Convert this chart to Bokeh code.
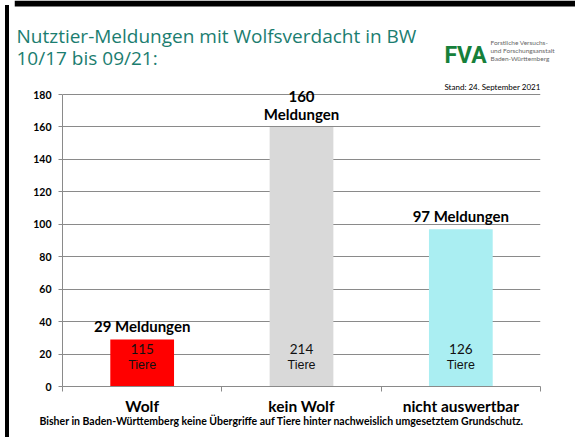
from bokeh.plotting import figure
from bokeh.layouts import column, row
from bokeh.models import (ColumnDataSource, Range1d, LinearAxis, FixedTicker, Label, LabelSet,
                          Title, Div)
from bokeh.core.properties import value
from bokeh.embed import file_html
from bokeh.resources import INLINE

# ---- data ----
categories = ["Wolf", "kein Wolf", "nicht auswertbar"]
meldungen = [29, 160, 97]
tiere = [115, 214, 126]
bar_colors = ["#FF0000", "#D9D9D9", "#AAEEF2"]
label_seps = [" ", "\n", " "]
y_ticks = [0, 20, 40, 60, 80, 100, 120, 140, 160, 180]
title_lines = ["Nutztier-Meldungen mit Wolfsverdacht in BW", "10/17 bis 09/21:"]
stand_text = "Stand: 24. September 2021"
footnote = "Bisher in Baden-Württemberg keine Übergriffe auf Tiere hinter nachweislich umgesetztem Grundschutz."
logo_text = "FVA"
logo_lines = ["Forstliche Versuchs-", "und Forschungsanstalt", "Baden-Württemberg"]

# ---- layout constants (pixels) ----
W = 561
HEADER_H = 80
MAIN_H = 352
BL, BR, BB = 48, 35, 46
FRAME_H = MAIN_H - BB
PX_PER_UNIT = 292 / 180.0
Y_TOP = FRAME_H / PX_PER_UNIT
GRAY = "#8a8a8a"
TEAL = "#1B7D70"
GREEN = "#16803A"

# ---------- header ----------
hdr = figure(width=W, height=HEADER_H, x_range=Range1d(0, W), y_range=Range1d(HEADER_H, 0),
             output_backend="svg", toolbar_location=None, x_axis_location=None,
             y_axis_location=None, min_border=0)
hdr.frame_align = False
hdr.outline_line_color = None
hdr.grid.visible = False
hdr.quad(left=[0], right=[W], top=[0], bottom=[6], fill_color="black", line_color=None)
hdr.text(x=[2, 2], y=[35, 57], text=title_lines, text_font=value("Open Sans"),
         text_font_size="19px", text_color=TEAL, text_baseline="alphabetic")
hdr.text(x=[430], y=[55], text=[logo_text], text_font=value("Roboto"),
         text_font_style="bold", text_font_size="23px", text_color=GREEN,
         text_baseline="alphabetic")
hdr.text(x=[476, 476, 476], y=[42, 50, 58], text=logo_lines, text_font=value("Lato"),
         text_font_size="6.5px", text_color="#666666", text_baseline="middle")

# ---------- main chart ----------
n = len(categories)
centers = [i + 0.5 for i in range(n)]
src = ColumnDataSource(dict(xc=centers, m=meldungen, color=bar_colors))

ml_x, ml_y, ml_t, ml_off = [], [], [], []
for c, m, s in zip(centers, meldungen, label_seps):
    lines = f"{m}{s}Meldungen".split("\n")
    for k, line in enumerate(reversed(lines)):
        ml_x.append(c); ml_y.append(m); ml_t.append(line); ml_off.append(4 + 21 * k)
msrc = ColumnDataSource(dict(x=ml_x, y=ml_y, t=ml_t, off=ml_off))

p = figure(width=W, height=MAIN_H, x_range=Range1d(0, n), y_range=Range1d(0, Y_TOP),
           output_backend="svg", toolbar_location=None, x_axis_location=None,
           min_border_left=BL, min_border_right=BR, min_border_top=0, min_border_bottom=BB)
p.frame_align = False
p.outline_line_color = None
p.xgrid.visible = False

p.vbar(x="xc", top="m", width=0.4, fill_color="color", line_color=None, source=src)

yt = FixedTicker(ticks=y_ticks)
p.yaxis.ticker = yt
p.yaxis.bounds = (0, 180)
p.ygrid.ticker = yt
p.ygrid.bounds = (0, 180)
p.ygrid.grid_line_color = GRAY
p.yaxis.axis_line_color = GRAY
p.yaxis.major_tick_line_color = GRAY
p.yaxis.major_tick_in = 0
p.yaxis.major_tick_out = 4
p.yaxis.minor_tick_line_color = None
p.yaxis.major_label_standoff = 7
p.yaxis.major_label_text_font = "Lato"
p.yaxis.major_label_text_font_style = "bold"
p.yaxis.major_label_text_font_size = "10.5px"
p.yaxis.major_label_text_color = "black"

edges = list(range(n + 1))
edge_axis = LinearAxis(ticker=FixedTicker(ticks=edges),
                       major_label_overrides={e: "" for e in edges},
                       major_label_text_font_size="1px", major_label_standoff=0,
                       major_tick_in=0, major_tick_out=5, minor_tick_line_color=None,
                       axis_line_color=GRAY, major_tick_line_color=GRAY)
p.add_layout(edge_axis, "below")
cat_axis = LinearAxis(ticker=FixedTicker(ticks=centers),
                      major_label_overrides={c: name for c, name in zip(centers, categories)},
                      axis_line_color=None, major_tick_line_color=None,
                      minor_tick_line_color=None, major_label_standoff=-1,
                      major_label_text_font="Lato", major_label_text_font_style="bold",
                      major_label_text_font_size="15.5px", major_label_text_color="black")
p.add_layout(cat_axis, "below")
p.add_layout(Title(text=footnote, align="left", offset=-23, standoff=-9,
                   text_font="Lato", text_font_style="bold", text_font_size="10.5px",
                   text_color="black"), "below")

p.add_layout(LabelSet(x="x", y="y", text="t", y_offset="off", source=msrc,
                      text_align="center", text_baseline="bottom", text_font=value("Lato"),
                      text_font_style="bold", text_font_size="15px", text_color="black"))
src_t = ColumnDataSource(dict(x=centers, num=[str(t) for t in tiere], unit=["Tiere"] * n))
p.add_layout(LabelSet(x="x", y=0, text="num", y_offset=38, source=src_t, text_align="center",
                      text_baseline="middle", text_font=value("Lato"),
                      text_font_size="13.5px", text_color="#111111"))
p.add_layout(LabelSet(x="x", y=0, text="unit", y_offset=22, source=src_t, text_align="center",
                      text_baseline="middle", text_font=value("Liberation Sans"),
                      text_font_size="12.5px", text_color="#111111"))

p.add_layout(Label(x=n, y=Y_TOP - 6 / PX_PER_UNIT, text=stand_text, text_font="Lato",
                   text_font_size="8px", text_color="black", text_align="right",
                   text_baseline="middle"))

# ---------- left frame border ----------
left_bar = Div(text="", width=4, height=HEADER_H + MAIN_H,
               styles={"background-color": "black"})

layout = row(left_bar, column(hdr, p, spacing=0), spacing=0)

open("out.html", "w").write(file_html(layout, INLINE))
